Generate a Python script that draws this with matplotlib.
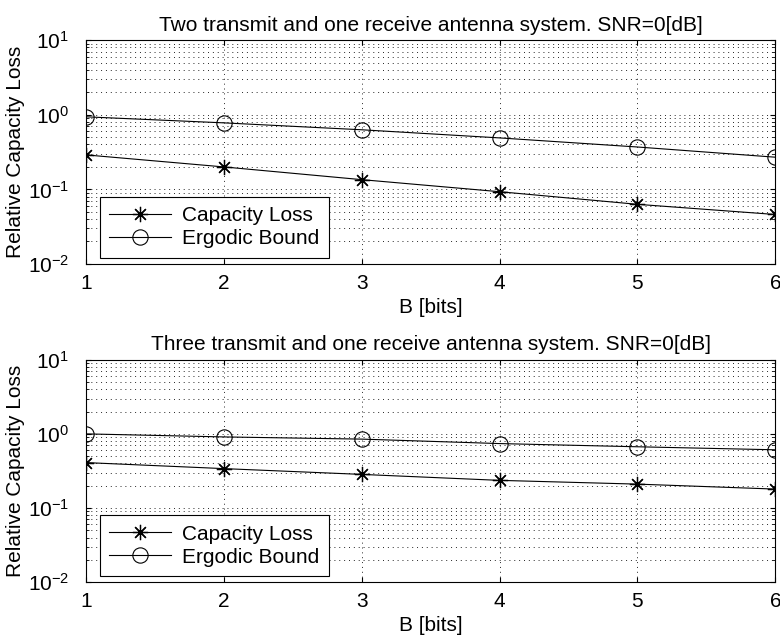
import matplotlib
matplotlib.use('Agg')
import matplotlib.pyplot as plt
import numpy as np

plt.rcParams['font.family'] = ['Liberation Sans', 'DejaVu Sans']
plt.rcParams['mathtext.fontset'] = 'custom'
plt.rcParams['mathtext.rm'] = 'Liberation Sans'
plt.rcParams['mathtext.it'] = 'Liberation Sans'

# data
bits = [1, 2, 3, 4, 5, 6]
loss_2tx = [0.29, 0.20, 0.135, 0.093, 0.063, 0.046]
bound_2tx = [0.94, 0.78, 0.63, 0.49, 0.37, 0.27]
loss_3tx = [0.41, 0.34, 0.284, 0.236, 0.21, 0.18]
bound_3tx = [1.0, 0.91, 0.85, 0.74, 0.67, 0.61]

titles = ['Two transmit and one receive antenna system. SNR=0[dB]',
          'Three transmit and one receive antenna system. SNR=0[dB]']

fig = plt.figure(figsize=(7.8, 6.39), dpi=100)
ax1 = fig.add_axes([0.110, 0.587, 0.884, 0.350])
ax2 = fig.add_axes([0.110, 0.089, 0.884, 0.348])

dots = (0, (1, 4))
for ax, loss, bound, title in [(ax1, loss_2tx, bound_2tx, titles[0]),
                                (ax2, loss_3tx, bound_3tx, titles[1])]:
    ax.semilogy(bits, loss, 'k-', marker=(8, 2, 0), lw=0.8, ms=11, mew=0.9,
                label='Capacity Loss')
    ax.semilogy(bits, bound, 'k-o', lw=0.8, ms=11, mfc='none', mew=0.8,
                label='Ergodic Bound')
    ax.set_xlim(1, 6)
    ax.set_ylim(1e-2, 1e1)
    ax.set_xticks(bits)
    ax.set_yticks([1e-2, 1e-1, 1e0, 1e1])
    ax.grid(True, which='major', ls=dots, color='0.15', lw=0.7)
    ax.grid(True, which='minor', axis='y', ls=dots, color='0.15', lw=0.7)
    ax.tick_params(which='both', direction='in', top=True, right=True, labelsize=15)
    ax.tick_params(axis='x', pad=7)
    ax.tick_params(axis='y', which='major', pad=12)
    ax.set_title(title, fontsize=15, pad=7)
    ax.set_xlabel('B [bits]', fontsize=15, labelpad=4)
    ax.set_ylabel('Relative Capacity Loss', fontsize=15, labelpad=2)
    leg = ax.legend(loc='lower left', bbox_to_anchor=(0.020, 0.027), borderaxespad=0,
                    fontsize=15, fancybox=False, framealpha=1, edgecolor='k',
                    handlelength=3.0, borderpad=0.45, labelspacing=0.2,
                    handletextpad=0.5)
    leg.get_frame().set_linewidth(0.8)

fig.savefig('out.png', dpi=100)
